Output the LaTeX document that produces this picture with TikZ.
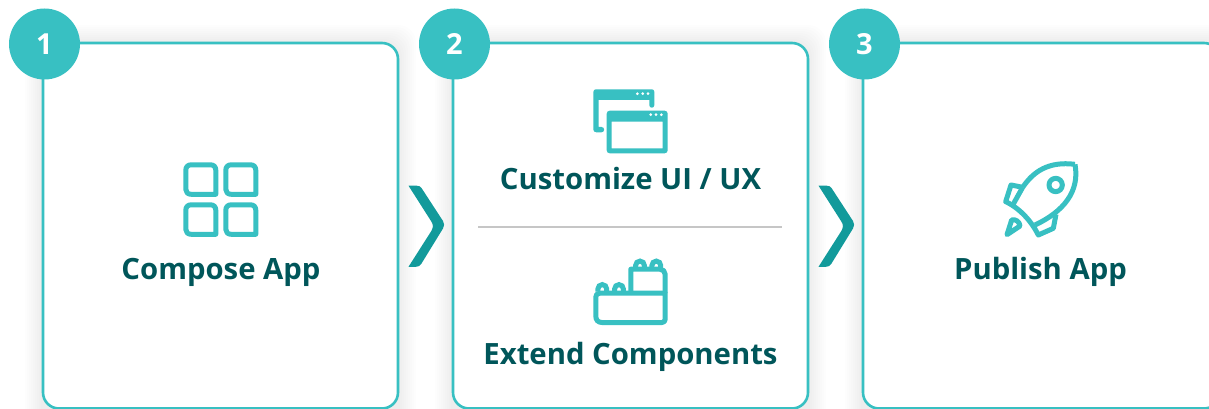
\documentclass[tikz,border=0pt]{standalone}
\usepackage{fontspec}
\setmainfont{Open Sans}
\definecolor{teal1}{HTML}{38C0C2}
\definecolor{tealdark}{HTML}{00565A}
\definecolor{tealarrow}{HTML}{129A9B}
\definecolor{sepgray}{HTML}{C6C6C6}
\tikzset{
  cardbox/.style={draw=teal1,line width=2.6pt,fill=white,rounded corners=16pt},
  numdisc/.style={circle,fill=teal1,inner sep=0pt,minimum size=71pt,text=white,font=\fontsize{29}{29}\selectfont\bfseries},
  titletext/.style={anchor=base,text=tealdark,inner sep=0pt,font=\fontsize{29.3}{29.3}\selectfont\bfseries},
  iconline/.style={draw=teal1,line width=5pt,line join=round,fill=none},
  iconfill/.style={fill=teal1,draw=none},
  chevron/.style={fill=tealarrow,draw=none},
  windot/.style={fill=white,draw=none},
}
\begin{document}
\begin{tikzpicture}[x=1pt,y=-1pt]
\useasboundingbox (0,0) rectangle (1209,409);
% shadows
\foreach \cx in {43,453,863}{
  \foreach \d in {2,4,...,18}{
    \fill[black,opacity=0.008,rounded corners=18pt] (\cx-\d,43-\d) rectangle (\cx+355+\d,440);
  }
}
% cards
\draw[cardbox] (43,43) rectangle (398,408.5);
\draw[cardbox] (453,43) rectangle (808,408.5);
\draw[cardbox] (863,43) rectangle (1220,408.5);
% number discs
\node[numdisc] (n1) at (44.5,44) {1};
\node[numdisc] (n2) at (454.5,44) {2};
\node[numdisc] (n3) at (864.5,44) {3};
% chevrons
\foreach \dx in {0,410}{
\fill[chevron,shift={(\dx,0)}] (408.5,185.7) -- (416.5,185.7) .. controls (419,185.7) and (420.5,186.5) .. (421.5,188) -- (443,221) .. controls (444.5,223.5) and (444.5,226) .. (443,228.5) -- (421.5,263.5) .. controls (420,266) and (418.5,266.8) .. (416,266.8) -- (408.5,266.8) -- (431,231.5) .. controls (433.5,227.5) and (433.5,224.5) .. (431,221) -- cycle;
}
% grid icon
\foreach \gx/\gy in {183.3/162.3,223.3/162.3,183.3/202.3,223.3/202.3}{
\draw[iconline,shift={(\gx,\gy)}] (2.5,8) .. controls (2.5,4.5) and (4.5,2.5) .. (8,2.5) -- (27,2.5) .. controls (30.5,2.5) and (32.5,4.5) .. (32.5,8) -- (32.5,32) -- (8,32) .. controls (4.5,32) and (2.5,30) .. (2.5,27) -- cycle;
}
% windows icon
\fill[iconfill] (596,89.3) -- (651.8,89.3) .. controls (653.3,89.3) and (654.3,90.3) .. (654.3,91.8) -- (654.3,105.2) .. controls (654.3,108.5) and (649.3,108.5) .. (649.3,105.2) -- (649.3,100) -- (598.7,100) -- (598.7,127) -- (601.5,127) .. controls (605,127) and (605,132.3) .. (601.5,132.3) -- (596.3,132.3) .. controls (594.5,132.3) and (593.3,131) .. (593.3,129.5) -- (593.3,92) .. controls (593.3,90.3) and (594.5,89.3) .. (596,89.3) -- cycle;
\fill[iconfill,even odd rule] (609.7,110.7) -- (664.7,110.7) .. controls (666.5,110.7) and (667.7,112) .. (667.7,113.7) -- (667.7,150.3) .. controls (667.7,152) and (666.5,153.3) .. (664.7,153.3) -- (609.7,153.3) .. controls (608,153.3) and (606.7,152) .. (606.7,150.3) -- (606.7,113.7) .. controls (606.7,112) and (608,110.7) .. (609.7,110.7) -- cycle (611.7,121.7) rectangle (662.7,148.3);
\foreach \px/\py in {637.3/93.7,642.7/93.7,648/93.7,650.7/114.7,656/114.7,661.3/114.7}{
  \fill[windot] (\px,\py) circle (1.5);
}
% blocks icon
\draw[iconline] (630.8,293) -- (630.8,269.2) -- (660,269.2) .. controls (663,269.2) and (665.2,271.5) .. (665.2,274.5) -- (665.2,293.2);
\draw[iconline] (600,293.2) -- (665.2,293.2) -- (665.2,319) .. controls (665.2,321) and (664,322.5) .. (662,322.5) -- (602,322.5) .. controls (598,322.5) and (595.8,320) .. (595.8,316) -- (595.8,297) .. controls (595.8,294.5) and (597,293.2) .. (600,293.2) -- cycle;
\foreach \sx/\sy in {640/265.5,656.3/265.5,602.3/289,619/289}{
  \draw[draw=teal1,line width=5pt] (\sx-4.4,\sy+2.5) -- (\sx-4.4,\sy) arc[start angle=180,end angle=360,radius=4.4] -- (\sx+4.4,\sy+2.5);
}
% rocket icon
\begin{scope}[shift={(985,150)},x=0.3333pt,y=-0.3333pt]
\draw[iconline] (270,43) .. controls (190,33) and (145,65) .. (113,112);
\draw[iconline] (113,112) -- (78,105) -- (62,155) .. controls (105,175) and (140,215) .. (160,255) -- (205,235) -- (213,193);
\draw[iconline] (270,43) .. controls (285,125) and (235,185) .. (150,225);
\draw[iconline] (113,112) -- (85,162);
\draw[iconline] (212,105) circle (20);
\draw[iconline] (66,254) -- (80,210) .. controls (92,206) and (104,216) .. (105,228) -- cycle;
\end{scope}
% separator
\draw[draw=sepgray,line width=2pt] (478,226.5) -- (782,226.5);
% titles
\node[titletext] (t1) at (221,279) {Compose App};
\node[titletext] (t2a) at (630.5,189) {Customize UI / UX};
\node[titletext] (t2b) at (630.5,364) {Extend Components};
\node[titletext] (t3) at (1040.5,279) {Publish App};
\end{tikzpicture}
\end{document}
